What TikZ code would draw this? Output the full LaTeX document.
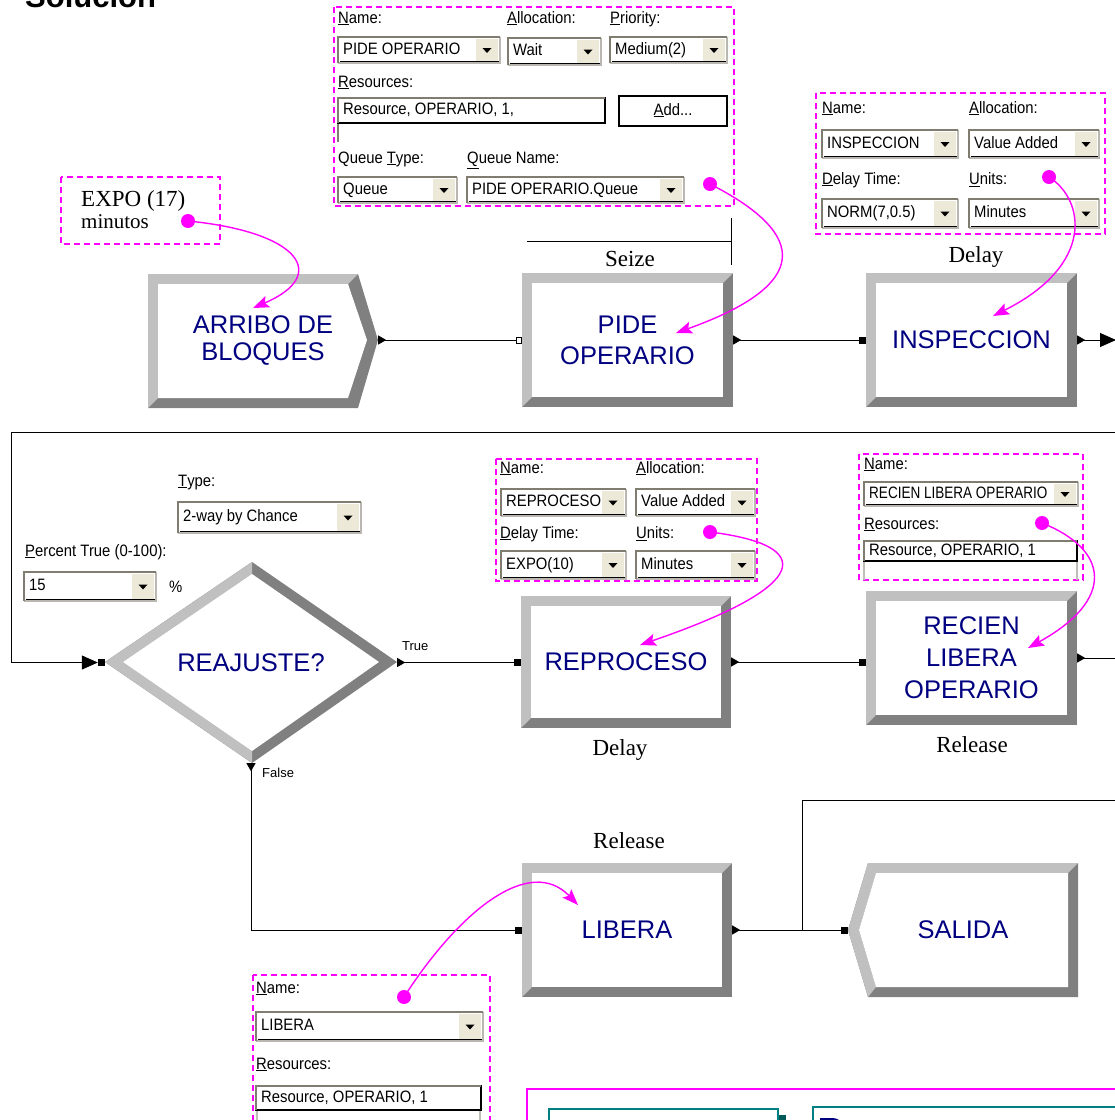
\documentclass[tikz,border=0pt]{standalone}
\usepackage{fontspec}
\usetikzlibrary{arrows.meta,calc}
\newfontfamily\uifont[FakeStretch=0.9]{Liberation Sans}
\newfontfamily\uicond[FakeStretch=0.82]{Liberation Sans}
\newfontfamily\modfont{Liberation Sans}
\newfontfamily\titlefont{Liberation Sans}
\newfontfamily\capfont{Liberation Serif}
\definecolor{navy}{RGB}{0,0,128}
\definecolor{bvlight}{RGB}{192,192,192}
\definecolor{bvdark}{RGB}{128,128,128}
\definecolor{mag}{RGB}{255,0,255}
\definecolor{btnface}{RGB}{236,233,216}
\definecolor{wframe}{RGB}{128,124,112}
\definecolor{tealline}{RGB}{0,128,128}

% drop-down field: name, x1, y1, x2, y2, text
\newcommand\dropbox[6]{%
  \fill[white] (#2,#3) rectangle (#4,#5);
  \fill[btnface] (#4-24,#3+2) rectangle (#4-2,#5-2);
  \fill[black] ({#4-17.5},{(#3+#5)/2-2}) -- ++(9,0) -- ++(-4.5,5) -- cycle;
  \draw[wframe!55, line width=1.5pt] (#2,#5) -- (#4,#5) -- (#4,#3);
  \draw[wframe, line width=2pt] (#4,#3) -- (#2,#3) -- (#2,#5);
  \draw[black, line width=0.8pt] (#2+1.5,#5-1.5) -- (#4-1.5,#5-1.5);
  \node[uitext] (#1) at (#2+5,{(#3+#5)/2}) {#6};
}
% list field: name, x1, y1, x2, y2, text
\newcommand\listbox[6]{%
  \fill[white] (#2,#3) rectangle (#4,#5);
  \draw[black, line width=1.2pt] (#2,#3) rectangle (#4,#5);
  \draw[wframe, line width=2pt] (#2,#5) -- (#2,#3) -- (#4,#3);
  \node[uitext] (#1) at (#2+5,{(#3+#5)/2}) {#6};
}
% bevelled process module: name, x1, y1, x2, y2, baselineskip, text
\newcommand\module[7]{%
  \fill[bvdark] (#2,#3) rectangle (#4,#5);
  \fill[bvlight] (#2,#3) -- (#4,#3) -- (#4-10,#3+10) -- (#2+10,#3+10) -- (#2+10,#5-10) -- (#2,#5) -- cycle;
  \fill[white] (#2+10,#3+10) rectangle (#4-10,#5-10);
  \node[modtext, font={\modfont\fontsize{25.5}{#6}\selectfont},
        minimum width={#4-#2}, minimum height={#5-#3}]
        (#1) at ({(#2+#4)/2},{(#3+#5)/2}) {#7};
}

\begin{document}
\begin{tikzpicture}[x=1pt,y=-1pt,
  uitext/.style={font=\uifont\fontsize{16.5}{19}\selectfont, inner sep=0pt,
                 anchor=west, text height=11.5pt, text depth=3pt},
  smalltext/.style={font=\modfont\fontsize{13}{15}\selectfont, inner sep=0pt},
  modtext/.style={text=navy, align=center, inner sep=0pt},
  captext/.style={font=\capfont\fontsize{23}{27}\selectfont, inner sep=0pt},
  panelframe/.style={draw=mag, line width=1.5pt, dash pattern=on 6pt off 4pt},
  conn/.style={black, line width=1pt},
  pin/.style={circle, fill=mag, inner sep=0pt, minimum size=14pt},
  callout/.style={mag, line width=1.4pt, -{Stealth[length=16pt,width=12pt,inset=3pt]}},
]
\useasboundingbox (0,0) rectangle (1115,1120);
\clip (0,0) rectangle (1115,1120);

% title
\node[anchor=base west, inner sep=0pt, font=\titlefont\bfseries\fontsize{31}{36}\selectfont]
  (title) at (25,7) {Solución};

% ---------------- Create module ----------------
\fill[bvdark] (148,274) -- (358,274) -- (378,340) -- (358,408) -- (148,408) -- cycle;
\fill[bvlight] (148,274) -- (358,274) -- (348,284) -- (158,284) -- (158,398) -- (148,408) -- cycle;
\fill[white] (158,284) -- (348,284) -- (367,340) -- (348,398) -- (158,398) -- cycle;
\node[modtext, font={\modfont\fontsize{25.5}{27}\selectfont}, minimum width=230, minimum height=134]
  (arribo) at (263,340) {ARRIBO DE\\BLOQUES};

% ---------------- Process modules ----------------
\module{pide}{522}{273}{733}{407}{31}{PIDE\\OPERARIO}
\module{insp}{866}{273}{1077}{407}{31}{INSPECCION}
\module{reproc}{521}{596}{731}{728}{31}{REPROCESO}
\module{recien}{866}{591}{1077}{725}{32}{RECIEN\\LIBERA\\OPERARIO}
\module{libera}{522}{863}{732}{997}{31}{LIBERA}

% ---------------- Dispose module ----------------
\fill[bvdark] (848,930) -- (868,863) -- (1078,863) -- (1078,997) -- (868,997) -- cycle;
\fill[bvlight] (848,930) -- (868,863) -- (1078,863) -- (1068,873) -- (876,873) -- (859,930)
  -- (876,987) -- (868,997) -- cycle;
\fill[white] (859,930) -- (876,873) -- (1068,873) -- (1068,987) -- (876,987) -- cycle;
\node[modtext, font={\modfont\fontsize{25.5}{31}\selectfont}, minimum width=230, minimum height=134]
  (salida) at (963,930) {SALIDA};

% ---------------- Decide module ----------------
\fill[bvdark] (105,662) -- (252,562) -- (397,662) -- (252,763) -- cycle;
\fill[bvlight] (105,662) -- (252,562) -- (252,574) -- (123,662) -- (252,751) -- (252,763) -- cycle;
\fill[white] (123,662) -- (252,574) -- (379,662) -- (252,751) -- cycle;
\node[modtext, font={\modfont\fontsize{25.5}{31}\selectfont}, minimum width=292, minimum height=201]
  (reajuste) at (251,662.5) {REAJUSTE?};

% ---------------- module captions ----------------
\draw[conn] (527,241) -- (731,241);
\draw[conn] (731,218) -- (731,265);
\node[captext] (capseize) at (630,259) {Seize};
\node[captext] (capdelay1) at (976,257) {Delay};
\node[captext] (capdelay2) at (620,750) {Delay};
\node[captext] (caprel1) at (972,745) {Release};
\node[captext] (caprel2) at (629,841) {Release};

% ---------------- connectors ----------------
\draw[conn, {Triangle[reversed,length=8pt,width=9pt]}-{Square[open,length=6pt,width=7pt]}]
  (arribo.east) -- (arribo.east -| pide.west);
\draw[conn, {Triangle[reversed,length=8pt,width=9pt]}-{Square[length=7pt,width=7pt]}]
  (pide.east) -- (insp.west);
\coordinate (edgeA) at (1116,340);
\draw[conn, {Triangle[reversed,length=8pt,width=9pt]}-{Triangle[length=16pt,width=14pt]}]
  (insp.east) -- (edgeA);

\coordinate (edgeB) at (1116,432);
\coordinate (loopin) at ($(reajuste.west)+(-7,0)$);
\draw[conn, -{Triangle[length=16pt,width=14pt]}] (edgeB) -- (11,432) -- (11,662.5) -- (loopin);
\fill[black] ($(reajuste.west)+(-7,-3.5)$) rectangle ($(reajuste.west)+(0,3.5)$);

\draw[conn, {Triangle[reversed,length=8pt,width=9pt]}-{Square[length=7pt,width=7pt]}]
  (reajuste.east) -- (reajuste.east -| reproc.west);
\node[smalltext, anchor=south west] (truelbl) at (402,651) {True};
\draw[conn, {Triangle[reversed,length=8pt,width=9pt]}-{Square[length=7pt,width=7pt]}]
  (reajuste.south) |- (libera.west);
\node[smalltext, anchor=west] (falselbl) at (262,773) {False};

\draw[conn, {Triangle[reversed,length=8pt,width=9pt]}-{Square[length=7pt,width=7pt]}]
  (reproc.east) -- (reproc.east -| recien.west);
\coordinate (edgeC) at (1116,658);
\draw[conn, {Triangle[reversed,length=8pt,width=9pt]}-] (recien.east) -- (recien.east -| edgeC);

\draw[conn, {Triangle[reversed,length=8pt,width=9pt]}-{Square[length=7pt,width=7pt]}]
  (libera.east) -- (libera.east -| salida.west);
\coordinate (edgeD) at (1116,800);
\coordinate (junc) at (802,930);
\draw[conn] (edgeD) -- (edgeD -| junc) -- (junc);

% ---------------- Seize dialog ----------------
\draw[panelframe] (334,7) rectangle (734,206);
\node[uitext] (p1name) at (338,19) {\underline{N}ame:};
\node[uitext] (p1alloc) at (507,19) {\underline{A}llocation:};
\node[uitext] (p1prio) at (610,19) {\underline{P}riority:};
\dropbox{p1dd1}{338}{37}{500}{63}{PIDE OPERARIO}
\dropbox{p1dd2}{508}{38}{601}{65}{Wait}
\dropbox{p1dd3}{610}{37}{727}{63}{Medium(2)}
\node[uitext] (p1res) at (338,83) {\underline{R}esources:};
\draw[wframe, line width=2pt] (338,123) -- (338,142);
\listbox{p1list}{338}{98}{605}{123}{Resource, OPERARIO, 1,}
\fill[white] (619,96) rectangle (727,126);
\draw[black, line width=1.5pt] (619,96) rectangle (727,126);
\node[uitext, anchor=center] (p1add) at (673,111) {\underline{A}dd...};
\node[uitext] (p1qtype) at (338,159) {Queue \underline{T}ype:};
\node[uitext] (p1qname) at (467,159) {\underline{Q}ueue Name:};
\dropbox{p1dd4}{338}{177}{457}{203}{Queue}
\dropbox{p1dd5}{467}{177}{684}{203}{PIDE OPERARIO.Queue}

% ---------------- Create expression ----------------
\draw[panelframe] (61,177) rectangle (220,244);
\node[captext, anchor=base west] (expo) at (81,206) {EXPO (17)};
\node[captext, anchor=base west, font=\capfont\fontsize{21}{25}\selectfont] (minutos) at (81,228) {minutos};

% ---------------- Delay dialog (INSPECCION) ----------------
\draw[panelframe] (816,93) rectangle (1105,234);
\node[uitext] (p3name) at (822,109) {\underline{N}ame:};
\node[uitext] (p3alloc) at (969,109) {\underline{A}llocation:};
\dropbox{p3dd1}{822}{130}{958}{158}{INSPECCION}
\dropbox{p3dd2}{969}{130}{1099}{158}{Value Added}
\node[uitext] (p3delay) at (822,180) {\underline{D}elay Time:};
\node[uitext] (p3units) at (969,180) {\underline{U}nits:};
\dropbox{p3dd3}{822}{199}{958}{228}{NORM(7,0.5)}
\dropbox{p3dd4}{969}{199}{1099}{228}{Minutes}

% ---------------- Decide dialog ----------------
\node[uitext] (p4type) at (178,482) {\underline{T}ype:};
\dropbox{p4dd1}{178}{502}{361}{533}{2-way by Chance}
\node[uitext] (p4pct) at (25,552) {\underline{P}ercent True (0-100):};
\dropbox{p4dd2}{24}{572}{156}{601}{15}
\node[uitext] (p4sign) at (169,588) {\%};

% ---------------- Delay dialog (REPROCESO) ----------------
\draw[panelframe] (496,459) rectangle (757,581);
\node[uitext] (p5name) at (500,469) {\underline{N}ame:};
\node[uitext] (p5alloc) at (636,469) {\underline{A}llocation:};
\dropbox{p5dd1}{501}{489}{626}{516}{REPROCESO}
\dropbox{p5dd2}{636}{489}{755}{516}{Value Added}
\node[uitext] (p5delay) at (500,534) {\underline{D}elay Time:};
\node[uitext] (p5units) at (636,534) {\underline{U}nits:};
\dropbox{p5dd3}{501}{551}{626}{579}{EXPO(10)}
\dropbox{p5dd4}{636}{551}{755}{579}{Minutes}

% ---------------- Release dialog (RECIEN LIBERA OPERARIO) ----------------
\draw[panelframe] (859,454) rectangle (1083,580);
\node[uitext] (p6name) at (864,465) {\underline{N}ame:};
\dropbox{p6dd1}{864}{482}{1078}{506}{\uicond RECIEN LIBERA OPERARIO}
\node[uitext] (p6res) at (864,525) {\underline{R}esources:};
\draw[wframe!50, line width=1.5pt] (864,561) -- (864,580);
\draw[wframe!50, line width=1.5pt] (1077,561) -- (1077,580);
\listbox{p6list}{864}{541}{1077}{561}{Resource, OPERARIO, 1}

% ---------------- Release dialog (LIBERA) ----------------
\draw[panelframe] (253,975) rectangle (490,1140);
\node[uitext] (p7name) at (256,989) {\underline{N}ame:};
\dropbox{p7dd1}{256}{1012}{483}{1041}{LIBERA}
\node[uitext] (p7res) at (256,1065) {\underline{R}esources:};
\draw[wframe!50, line width=1.5pt] (257,1110) -- (257,1130);
\draw[wframe!50, line width=1.5pt] (480,1110) -- (480,1130);
\listbox{p7list}{256}{1086}{481}{1110}{Resource, OPERARIO, 1}

% ---------------- lower right frame ----------------
\draw[mag, line width=1.5pt] (527,1140) -- (527,1089) -- (1130,1089);
\fill[tealline!70!black] (778,1115) rectangle (786,1140);
\draw[tealline, line width=2pt] (549,1140) -- (549,1109) -- (778,1109) -- (778,1140);
\draw[tealline, line width=2pt] (813,1140) -- (813,1107) -- (1130,1107);
\fill[navy] (820,1118) -- (832,1118) .. controls (837,1118) and (840,1120) .. (841,1123) -- (820,1123) -- cycle;

% ---------------- callouts ----------------
\node[pin] (dotA) at (188,221) {};
\coordinate (tipA) at (253,308);
\draw[callout] (dotA.center) .. controls (300,232) and (330,275) .. (tipA);

\node[pin] (dotB) at (710,184) {};
\coordinate (tipB) at (676,333);
\draw[callout] (dotB.center) .. controls (810,235) and (810,285) .. (tipB);

\node[pin] (dotC) at (1049,177) {};
\coordinate (tipC) at (993,316);
\draw[callout] (dotC.center) .. controls (1085,200) and (1095,265) .. (tipC);

\node[pin] (dotD) at (710,532) {};
\coordinate (tipD) at (640,645);
\draw[callout] (dotD.center) .. controls (815,545) and (815,585) .. (tipD);

\node[pin] (dotE) at (1042,523) {};
\coordinate (tipE) at (1028,648);
\draw[callout] (dotE.center) .. controls (1110,550) and (1115,600) .. (tipE);

\node[pin] (dotF) at (404,997) {};
\coordinate (tipF) at (578,905);
\draw[callout] (dotF.center) .. controls (460,910) and (530,855) .. (tipF);
\end{tikzpicture}
\end{document}
